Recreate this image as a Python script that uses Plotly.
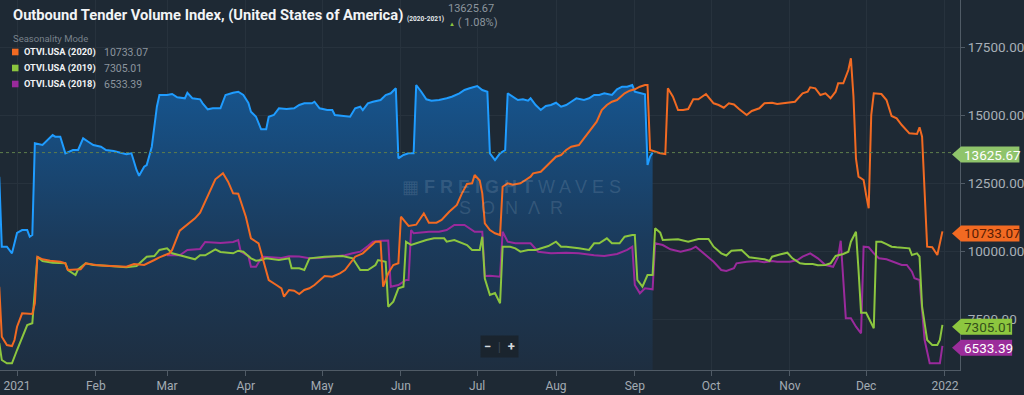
import plotly.graph_objects as go

# ---------------- data (seasonality mode: every year drawn on the 2021 calendar) ----------------
blue_dates = ["2020-12-25","2020-12-26","2020-12-28","2020-12-30","2021-01-01","2021-01-03","2021-01-05","2021-01-06","2021-01-07","2021-01-08",
"2021-01-11","2021-01-13","2021-01-15","2021-01-16","2021-01-18","2021-01-20","2021-01-23","2021-01-25","2021-01-27","2021-01-29",
"2021-01-31","2021-02-03","2021-02-05","2021-02-08","2021-02-10","2021-02-13","2021-02-15","2021-02-17","2021-02-18","2021-02-20",
"2021-02-21","2021-02-23","2021-02-25","2021-02-26","2021-03-01","2021-03-03","2021-03-05","2021-03-08","2021-03-09","2021-03-11",
"2021-03-14","2021-03-15","2021-03-17","2021-03-19","2021-03-22","2021-03-24","2021-03-27","2021-03-29","2021-03-31","2021-04-02",
"2021-04-03","2021-04-05","2021-04-07","2021-04-09","2021-04-10","2021-04-12","2021-04-14","2021-04-17","2021-04-20","2021-04-22",
"2021-04-24","2021-04-27","2021-04-28","2021-04-30","2021-05-03","2021-05-05","2021-05-06","2021-05-10","2021-05-12","2021-05-14",
"2021-05-16","2021-05-17","2021-05-19","2021-05-21","2021-05-24","2021-05-26","2021-05-28","2021-05-30","2021-05-31","2021-06-02",
"2021-06-04","2021-06-06","2021-06-07","2021-06-09","2021-06-11","2021-06-13","2021-06-16","2021-06-19","2021-06-21","2021-06-24",
"2021-06-26","2021-06-28","2021-07-01","2021-07-03","2021-07-05","2021-07-06","2021-07-08","2021-07-10","2021-07-12","2021-07-13",
"2021-07-15","2021-07-17","2021-07-19","2021-07-21","2021-07-22","2021-07-24","2021-07-26","2021-07-28","2021-07-30","2021-08-01",
"2021-08-03","2021-08-05","2021-08-07","2021-08-09","2021-08-12","2021-08-14","2021-08-16","2021-08-18","2021-08-20","2021-08-23",
"2021-08-25","2021-08-27","2021-08-29","2021-08-31","2021-09-01","2021-09-03","2021-09-05","2021-09-06","2021-09-07","2021-09-08"]
blue_vals = [12741,10172,10172,9930,10675,10784,10784,10538,10601,13966,
13904,14088,14271,14209,14209,13600,13721,13721,14150,14025,
13904,13842,13721,13684,13636,13563,13600,12987,12777,13108,
13170,13842,15310,15739,15739,15776,15655,15618,15823,15618,
15581,15434,15214,15251,15251,15739,15823,15860,15739,15450,
15126,14943,14480,14480,14943,15005,15251,15225,15251,15372,
15434,15434,15493,15251,15188,15188,15005,14968,14943,15251,
15310,15188,15434,15493,15556,15739,15801,15985,13416,13537,
13600,13600,16106,15860,15581,15530,15556,15618,15677,15801,
15922,15985,16069,15922,15860,13600,13354,13600,13721,15801,
15677,15556,15581,15530,15618,15372,15188,15335,15372,15456,
15310,15372,15493,15618,15556,15618,15739,15739,15801,15739,
15948,16044,16044,16106,15860,15801,15764,13170,13480,13625.67]

orange_dates = ["2020-12-25","2020-12-26","2020-12-28","2020-12-30","2020-12-31","2021-01-01","2021-01-03","2021-01-05","2021-01-07","2021-01-08",
"2021-01-09","2021-01-11","2021-01-14","2021-01-18","2021-01-20","2021-01-21","2021-01-24","2021-01-26","2021-01-28","2021-02-01",
"2021-02-05","2021-02-10","2021-02-13","2021-02-16","2021-02-20","2021-02-24","2021-02-26","2021-03-02","2021-03-03","2021-03-06",
"2021-03-08","2021-03-12","2021-03-14","2021-03-17","2021-03-20","2021-03-23","2021-03-25","2021-03-27","2021-03-29","2021-04-01",
"2021-04-03","2021-04-06","2021-04-08","2021-04-10","2021-04-13","2021-04-15","2021-04-16","2021-04-18","2021-04-20","2021-04-22",
"2021-04-24","2021-04-26","2021-04-28","2021-04-30","2021-05-02","2021-05-05","2021-05-08","2021-05-10","2021-05-12","2021-05-14",
"2021-05-17","2021-05-19","2021-05-22","2021-05-24","2021-05-25","2021-05-27","2021-05-29","2021-05-31","2021-06-01","2021-06-04",
"2021-06-07","2021-06-10","2021-06-12","2021-06-15","2021-06-17","2021-06-20","2021-06-23","2021-06-25","2021-06-27","2021-06-29",
"2021-06-30","2021-07-02","2021-07-03","2021-07-04","2021-07-06","2021-07-08","2021-07-10","2021-07-11","2021-07-13","2021-07-15",
"2021-07-18","2021-07-20","2021-07-22","2021-07-23","2021-07-26","2021-07-28","2021-07-30","2021-08-01","2021-08-03","2021-08-05",
"2021-08-07","2021-08-10","2021-08-12","2021-08-15","2021-08-17","2021-08-19","2021-08-21","2021-08-23","2021-08-25","2021-08-28",
"2021-08-30","2021-09-01","2021-09-03","2021-09-05","2021-09-06","2021-09-07","2021-09-09","2021-09-11","2021-09-13","2021-09-14",
"2021-09-16","2021-09-18","2021-09-20","2021-09-22","2021-09-24","2021-09-26","2021-09-29","2021-10-02","2021-10-04","2021-10-06",
"2021-10-08","2021-10-10","2021-10-12","2021-10-15","2021-10-17","2021-10-20","2021-10-22","2021-10-25","2021-10-27","2021-10-30",
"2021-11-03","2021-11-06","2021-11-08","2021-11-09","2021-11-11","2021-11-13","2021-11-15","2021-11-17","2021-11-19","2021-11-20",
"2021-11-22","2021-11-24","2021-11-25","2021-11-26","2021-11-27","2021-11-28","2021-11-30","2021-12-01","2021-12-02","2021-12-03",
"2021-12-04","2021-12-07","2021-12-09","2021-12-11","2021-12-13","2021-12-15","2021-12-18","2021-12-21","2021-12-22","2021-12-23",
"2021-12-24","2021-12-25","2021-12-27","2021-12-29","2021-12-31"]
orange_vals = [8704,6869,6564,6527,6747,7236,7727,7727,7701,8094,
9804,9709,9658,9621,9562,9316,9342,9342,9562,9500,
9474,9463,9437,9537,9500,9684,9783,9930,10054,10759,
10906,11213,11420,12007,12645,12865,12557,12131,12117,11273,
10480,10296,9621,8950,8766,8645,8337,8583,8557,8436,
8583,8645,8766,8950,9096,9071,9195,9316,9562,9805,
9929,10113,10355,10355,8704,9195,9500,9562,11273,10932,
10979,11397,11052,11052,11152,11456,11702,12131,12473,12498,
12803,12600,12131,11030,10785,10663,10600,12374,12498,12447,
12498,12620,12741,12865,12924,13108,13291,13475,13537,13721,
13842,13904,14150,14517,14759,15188,15372,15493,15556,15801,
15897,15948,16044,16106,16106,13721,13658,13600,13574,15985,
15677,15188,15188,15225,15581,15581,15776,15434,15372,15272,
15434,15390,15225,15005,15152,15251,15434,15456,15409,15456,
15493,15801,15860,16021,15985,15739,15801,15618,15860,16168,
16168,16656,17086,15700,13400,12741,12620,12069,11581,15000,
15801,15776,15556,14968,14884,14638,14333,14308,14553,14209,
12374,10172,10150,9867,10733.07]

green_dates = ["2020-12-25","2020-12-26","2020-12-28","2020-12-30","2021-01-01","2021-01-03","2021-01-05","2021-01-07","2021-01-08","2021-01-09",
"2021-01-11","2021-01-15","2021-01-20","2021-01-21","2021-01-24","2021-01-25","2021-01-28","2021-01-31","2021-02-05","2021-02-10",
"2021-02-13","2021-02-17","2021-02-21","2021-02-24","2021-02-26","2021-03-01","2021-03-03","2021-03-06","2021-03-08","2021-03-12",
"2021-03-14","2021-03-16","2021-03-20","2021-03-22","2021-03-27","2021-03-29","2021-03-31","2021-04-03","2021-04-05","2021-04-07",
"2021-04-09","2021-04-14","2021-04-18","2021-04-19","2021-04-22","2021-04-24","2021-04-26","2021-05-02","2021-05-09","2021-05-13",
"2021-05-16","2021-05-19","2021-05-22","2021-05-23","2021-05-26","2021-05-27","2021-05-29","2021-05-31","2021-06-02","2021-06-03",
"2021-06-05","2021-06-11","2021-06-14","2021-06-18","2021-06-19","2021-06-22","2021-06-27","2021-06-29","2021-07-02","2021-07-03",
"2021-07-04","2021-07-06","2021-07-08","2021-07-10","2021-07-11","2021-07-14","2021-07-16","2021-07-18","2021-07-21","2021-07-24",
"2021-07-29","2021-08-01","2021-08-03","2021-08-05","2021-08-10","2021-08-14","2021-08-16","2021-08-18","2021-08-21","2021-08-23",
"2021-08-26","2021-08-28","2021-08-31","2021-09-01","2021-09-02","2021-09-04","2021-09-06","2021-09-08","2021-09-09","2021-09-11",
"2021-09-12","2021-09-15","2021-09-18","2021-09-22","2021-09-26","2021-09-30","2021-10-02","2021-10-05","2021-10-07","2021-10-09",
"2021-10-13","2021-10-16","2021-10-19","2021-10-22","2021-10-24","2021-10-25","2021-10-28","2021-10-31","2021-11-02","2021-11-05",
"2021-11-07","2021-11-10","2021-11-12","2021-11-15","2021-11-17","2021-11-19","2021-11-22","2021-11-24","2021-11-25","2021-11-27",
"2021-11-28","2021-11-29","2021-12-01","2021-12-02","2021-12-04","2021-12-05","2021-12-07","2021-12-09","2021-12-11","2021-12-13",
"2021-12-16","2021-12-18","2021-12-19","2021-12-21","2021-12-22","2021-12-23","2021-12-25","2021-12-27","2021-12-29","2021-12-30",
"2021-12-31"]
green_vals = [6637,6013,5892,5892,6381,6810,7298,7360,8461,9804,
9647,9584,9562,9316,9133,9342,9562,9500,9474,9437,
9415,9463,9804,9830,10054,10112,9930,9858,9805,9709,
9858,9858,10076,9978,9930,10025,9989,9746,9658,9683,
9746,9683,9746,9379,9379,9316,9746,9805,9830,9746,
9316,9316,9500,9683,9621,7970,8153,8645,8704,10355,
10234,10418,10480,10480,10355,10418,10234,10054,10054,10538,
9000,8399,8472,8094,10172,10172,10112,9989,10054,10054,
10197,10355,10172,10172,10112,10054,10296,10296,10480,10296,
10296,10538,10601,10601,8950,8704,9133,9133,10847,10686,
10418,10418,10443,10355,10454,10454,10172,9930,9849,10025,
10054,9783,9739,9709,9647,9805,9885,9951,9746,9562,
9537,9537,9489,9500,9562,9833,9904,9989,10355,10722,
9316,7749,7749,7543,7177,10355,10355,10270,10172,10150,
10112,10112,9867,9929,9805,7970,6748,6564,6564,6748,
7305.01]

purple_dates = ["2021-03-01","2021-03-06","2021-03-09","2021-03-14","2021-03-16","2021-03-22","2021-03-27","2021-03-29","2021-03-30","2021-04-02",
"2021-04-03","2021-04-05","2021-04-07","2021-04-08","2021-04-15","2021-04-18","2021-04-22","2021-04-26","2021-04-30","2021-05-05",
"2021-05-10","2021-05-13","2021-05-16","2021-05-19","2021-05-21","2021-05-24","2021-05-27","2021-05-28","2021-05-31","2021-06-03",
"2021-06-04","2021-06-05","2021-06-06","2021-06-12","2021-06-16","2021-06-19","2021-06-22","2021-06-26","2021-06-30","2021-07-03",
"2021-07-04","2021-07-06","2021-07-08","2021-07-10","2021-07-11","2021-07-13","2021-07-16","2021-07-22","2021-07-25","2021-07-30",
"2021-08-05","2021-08-10","2021-08-16","2021-08-20","2021-08-25","2021-08-29","2021-08-31","2021-09-01","2021-09-03","2021-09-05",
"2021-09-08","2021-09-09","2021-09-12","2021-09-15","2021-09-19","2021-09-23","2021-09-25","2021-09-28","2021-10-02","2021-10-05",
"2021-10-07","2021-10-10","2021-10-11","2021-10-15","2021-10-19","2021-10-22","2021-10-25","2021-10-27","2021-11-01","2021-11-04",
"2021-11-06","2021-11-09","2021-11-12","2021-11-15","2021-11-18","2021-11-20","2021-11-21","2021-11-23","2021-11-25","2021-11-27",
"2021-11-29","2021-11-30","2021-12-02","2021-12-04","2021-12-06","2021-12-09","2021-12-13","2021-12-15","2021-12-17","2021-12-19",
"2021-12-20","2021-12-22","2021-12-24","2021-12-26","2021-12-30","2021-12-31"]
purple_vals = [9858,9858,10054,10090,10344,10307,10344,10418,9989,9830,
9437,9437,9746,9805,9757,9819,9812,9746,9757,9805,
9858,9930,9989,10197,10355,10392,10400,8704,8766,8950,
8950,10784,10664,10722,10722,10784,10968,10968,10722,10722,
9100,9110,9080,9071,10722,10355,10296,10296,9989,9930,
9951,9930,9858,9830,9904,10054,10172,8766,8461,8645,
8608,10296,10234,10076,9989,10076,10172,9930,9621,9316,
9280,9379,9562,9621,9647,9599,9647,9621,9621,9683,
9805,9930,9746,9500,9437,9805,10392,7544,7544,7236,
6993,10172,10150,9930,9746,9709,9562,9500,9500,9254,
9012,8950,6748,5892,5892,6533.39]

month_ticks = ["2021-01-01","2021-02-01","2021-03-01","2021-04-01","2021-05-01","2021-06-01","2021-07-01",
               "2021-08-01","2021-09-01","2021-10-01","2021-11-01","2021-12-01","2022-01-01"]
month_labels = ["2021","Feb","Mar","Apr","May","Jun","Jul","Aug","Sep","Oct","Nov","Dec","2022"]
y_ticks = [7500, 10000, 12500, 15000, 17500]

series_names = ["OTVI.USA (2020)", "OTVI.USA (2019)", "OTVI.USA (2018)"]
change_pct = "1.08%"

# ---------------- styling ----------------
BG = "#1e2934"
GRID = "#27323d"
AXIS = "#505b66"
C_BLUE = "#1f9cff"
C_ORANGE = "#f26a22"
C_GREEN = "#8cc63f"
C_PURPLE = "#9a2a9c"
FONT = "Roboto"
YMIN, YMAX = 5647, 19226
W_PLOT, H_PLOT = 960, 370


def px(x):
    return x / W_PLOT


def py(y):
    return 1 - y / H_PLOT


def yv(v):
    return (v - YMIN) / (YMAX - YMIN)


fig = go.Figure()
fig.add_trace(go.Scatter(
    x=blue_dates, y=blue_vals, mode="lines", line=dict(color=C_BLUE, width=2),
    fill="tozeroy",
    fillgradient=dict(type="vertical", start=YMIN, stop=16200,
                      colorscale=[[0, "#1e2e40"], [0.45, "#1b3b5c"], [1, "#16558f"]]),
    hoverinfo="skip"))
fig.add_trace(go.Scatter(x=purple_dates, y=purple_vals, mode="lines",
                         line=dict(color=C_PURPLE, width=2), hoverinfo="skip"))
fig.add_trace(go.Scatter(x=green_dates, y=green_vals, mode="lines",
                         line=dict(color=C_GREEN, width=2), hoverinfo="skip"))
fig.add_trace(go.Scatter(x=orange_dates, y=orange_vals, mode="lines",
                         line=dict(color=C_ORANGE, width=2), hoverinfo="skip"))

shapes = []
annotations = []

# current value dashed line
shapes.append(dict(type="line", xref="paper", yref="y", x0=0, x1=1,
                   y0=blue_vals[-1], y1=blue_vals[-1],
                   line=dict(color="#5f7d4c", width=1, dash="3px,3px"), layer="above"))

# price tags at the right
tags = [(blue_vals[-1], "#8fc46b", "#ffffff"),
        (orange_vals[-1], C_ORANGE, "#5a1e06"),
        (green_vals[-1], "#8dc63f", "#34501b"),
        (purple_vals[-1], "#9b2d9b", "#ffffff")]
for val, col, tcol in tags:
    txt = f"{val:.2f}"
    yc = yv(val) - 2 / H_PLOT
    hh = 8 / H_PLOT
    xt, xb, xr = px(952), px(961), px(961 + 7.3 * len(txt))
    path = (f"M {xt},{yc} L {xb},{yc + hh} L {xr},{yc + hh} "
            f"L {xr},{yc - hh} L {xb},{yc - hh} Z")
    shapes.append(dict(type="path", xref="paper", yref="paper", path=path,
                       fillcolor=col, line=dict(width=0), layer="above"))
    annotations.append(dict(xref="paper", yref="paper", x=px(962), y=yc,
                            xanchor="left", yanchor="middle", showarrow=False,
                            text=txt, font=dict(family=FONT, size=13.5, color=tcol)))

# title block
annotations.append(dict(xref="paper", yref="paper", x=px(11), y=py(15), xanchor="left", yanchor="middle",
                        showarrow=False, text="<b>Outbound Tender Volume Index, (United States of America)</b>",
                        font=dict(family=FONT, size=14.7, color="#f2f4f6")))
annotations.append(dict(xref="paper", yref="paper", x=px(405), y=py(18.5), xanchor="left", yanchor="middle",
                        showarrow=False, text="<b>(2020-2021)</b>",
                        font=dict(family=FONT, size=6.5, color="#e6e9ec")))
annotations.append(dict(xref="paper", yref="paper", x=px(446), y=py(9), xanchor="left", yanchor="middle",
                        showarrow=False, text=f"{blue_vals[-1]:.2f}",
                        font=dict(family=FONT, size=11, color="#8c959e")))
annotations.append(dict(xref="paper", yref="paper", x=px(447), y=py(22), xanchor="left", yanchor="middle",
                        showarrow=False,
                        text=f"<span style='color:{C_GREEN};font-size:6px'>▲</span> ( {change_pct})",
                        font=dict(family=FONT, size=11, color="#8c959e")))

# legend block
annotations.append(dict(xref="paper", yref="paper", x=px(11), y=py(38), xanchor="left", yanchor="middle",
                        showarrow=False, text="Seasonality Mode",
                        font=dict(family=FONT, size=9.5, color="#78818b")))
leg_rows = [(series_names[0], C_ORANGE, orange_vals[-1], 52),
            (series_names[1], C_GREEN, green_vals[-1], 68),
            (series_names[2], C_PURPLE, purple_vals[-1], 84)]
for name, col, val, yrow in leg_rows:
    shapes.append(dict(type="rect", xref="paper", yref="paper",
                       x0=px(12), x1=px(18.5), y0=py(yrow + 3.3), y1=py(yrow - 3.3),
                       fillcolor=col, line=dict(width=0), layer="above"))
    annotations.append(dict(xref="paper", yref="paper", x=px(21.5), y=py(yrow), xanchor="left", yanchor="middle",
                            showarrow=False, text=f"<b>{name}</b>",
                            font=dict(family=FONT, size=9.3, color="#f0f2f4")))
    annotations.append(dict(xref="paper", yref="paper", x=px(102), y=py(yrow), xanchor="left", yanchor="middle",
                            showarrow=False, text=f"{val:.2f}",
                            font=dict(family=FONT, size=10.5, color="#8c959e")))

# watermark
annotations.append(dict(xref="paper", yref="paper", x=px(511), y=py(187), xanchor="center", yanchor="middle",
                        showarrow=False,
                        text="▦ <b>F R E I G H T</b> W A V E S",
                        font=dict(family="Liberation Sans", size=18, color="rgba(190,205,220,0.17)")))
annotations.append(dict(xref="paper", yref="paper", x=px(511), y=py(208), xanchor="center", yanchor="middle",
                        showarrow=False,
                        text="S\u00a0\u00a0O\u00a0\u00a0N\u00a0\u00a0Λ\u00a0\u00a0R",
                        font=dict(family="Liberation Sans", size=18, color="rgba(190,205,220,0.17)")))

# zoom buttons
annotations.append(dict(xref="paper", yref="paper", x=px(499), y=py(346), xanchor="center", yanchor="middle",
                        showarrow=False, text="<b>−</b>\u2002<span style='color:#3a4652'>|</span>\u2002<b>+</b>",
                        bgcolor="#1a242e", borderpad=3,
                        font=dict(family=FONT, size=13, color="#d5dade")))

fig.update_layout(
    width=1024, height=395,
    margin=dict(l=0, r=64, t=0, b=25, pad=0),
    paper_bgcolor=BG, plot_bgcolor=BG,
    showlegend=False,
    shapes=shapes, annotations=annotations,
    xaxis=dict(type="date", range=["2020-12-25 07:00", "2022-01-06 22:00"],
               tickmode="array", tickvals=month_ticks, ticktext=month_labels,
               tickfont=dict(family=FONT, size=12, color="#a3abb3"),
               ticks="outside", ticklen=5, tickcolor=AXIS,
               showgrid=True, gridcolor=GRID, gridwidth=1,
               showline=True, linecolor=AXIS, linewidth=1, zeroline=False, fixedrange=True),
    yaxis=dict(range=[YMIN, YMAX], side="right",
               tickmode="array", tickvals=y_ticks, tickformat=".2f",
               tickfont=dict(family=FONT, size=13.5, color="#a7afb7"),
               ticks="outside", ticklen=4, tickcolor=AXIS,
               showgrid=True, gridcolor=GRID, gridwidth=1,
               showline=True, linecolor=AXIS, linewidth=1, zeroline=False, fixedrange=True),
)

fig.write_html("out.html", config={"displayModeBar": False},
               post_script="document.body.style.margin='0';document.body.style.padding='0';"
                           "document.body.style.background='" + BG + "';")
